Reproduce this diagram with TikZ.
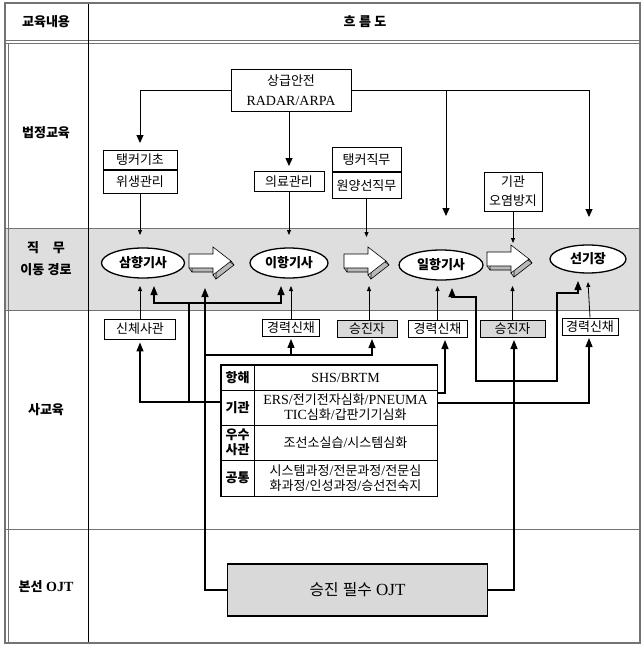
\documentclass[tikz,border=0pt]{standalone}
\usepackage{fontspec}
\setmainfont{Liberation Serif}
\newfontfamily\krfont{Noto Sans CJK KR}[Scale=0.93]
\XeTeXinterchartokenstate=1
\newXeTeXintercharclass\krclass
\newcount\hgcnt
\hgcnt="AC00
\loop
  \XeTeXcharclass\hgcnt=\krclass
\ifnum\hgcnt<"D7A3
  \advance\hgcnt by 1
\repeat
\XeTeXinterchartoks 0 \krclass = {\begingroup\krfont}
\XeTeXinterchartoks 4095 \krclass = {\begingroup\krfont}
\XeTeXinterchartoks \krclass 0 = {\endgroup}
\XeTeXinterchartoks \krclass 4095 = {\endgroup}
\usetikzlibrary{shapes.geometric,arrows.meta,calc}
\definecolor{bandgray}{gray}{0.87}
\definecolor{boxgray}{gray}{0.85}
\definecolor{rulegray}{gray}{0.45}
\newcommand\mysz{\fontsize{14}{16}\selectfont}
\newcommand\cellsz{\fontsize{14}{15}\selectfont}
\tikzset{
  box/.style={draw, line width=0.9pt, fill=white, inner sep=1pt},
  gbox/.style={box, fill=boxgray},
  cell/.style={draw, line width=0.9pt, inner sep=1pt, align=center, font=\cellsz},
  bcell/.style={cell, font=\cellsz\bfseries},
  lab/.style={font=\mysz\bfseries, align=center},
  ell/.style={ellipse, draw, line width=1.3pt, fill=white, inner sep=0pt, font=\mysz\bfseries},
  arr/.style={line width=1pt, -{Triangle[length=8pt,width=7pt]}},
  sarr/.style={line width=0.8pt, -{Triangle[length=5pt,width=4pt]}},
  tarr/.style={line width=1.2pt, -{Triangle[length=9pt,width=7pt]}},
  tline/.style={line width=1.2pt},
  barrow/.pic={
    \filldraw[fill=gray!55, line width=0.6pt] (-18,-3) -- (6,-3) -- (6,-10) -- (24,4) -- (6,18) -- (6,11) -- (-18,11) -- cycle;
    \draw[line width=0.6pt] (-21,7) -- (-18,11) (21,0) -- (24,4) (3,14) -- (6,18);
    \filldraw[fill=white, line width=0.6pt] (-21,-7) -- (3,-7) -- (3,-14) -- (21,0) -- (3,14) -- (3,7) -- (-21,7) -- cycle;
  }
}
\begin{document}
\begin{tikzpicture}[x=1pt,y=-1pt,font=\mysz]
\useasboundingbox (0,0) rectangle (643,645);
% ---- table frame ----
\fill[bandgray] (5,228) rectangle (640,310);
\draw[rulegray, line width=0.8pt] (5,40) -- (640,40) (5,43.5) -- (640,43.5);
\draw[rulegray, line width=1pt] (5,228) -- (640,228) (5,310) -- (640,310) (5,529) -- (640,529);
\draw[line width=0.8pt] (88,3) -- (88,643);
\draw[rulegray, line width=1.2pt] (5,3) rectangle (640,643);
\draw[rulegray, line width=0.6pt] (8,43.5) -- (8,643);
% ---- header and row labels ----
\node[lab] (h1) at (46,22) {교육내용};
\node[lab] (h2) at (365,22) {흐 름 도};
\node[lab] (l1) at (46,133) {법정교육};
\node[lab] (l2a) at (46,248) {직\hspace{14pt}무};
\node[lab] (l2b) at (46,270) {이동 경로};
\node[lab] (l3) at (46,410) {사교육};
\node[lab] (l4) at (46,587) {본선 OJT};
% ---- statutory training ----
\node[box, minimum width=120, minimum height=42, align=center] (radar) at (291,90) {상급안전\\[4pt]RADAR/ARPA};
\node[box, minimum width=74, minimum height=19, anchor=north] (tk1a) at (140,150) {탱커기초};
\node[box, minimum width=74, minimum height=23, anchor=north] (tk1b) at (tk1a.south) {위생관리};
\node[box, minimum width=70, minimum height=20] (med) at (289,181.5) {의료관리};
\node[box, minimum width=69, minimum height=24, anchor=north] (tk2a) at (366.5,147) {탱커직무};
\node[box, minimum width=69, minimum height=26, anchor=north] (tk2b) at (tk2a.south) {원양선직무};
\node[box, minimum width=58, minimum height=39, align=center] (eng) at (513,191.5) {기관\\[3pt]오염방지};
\coordinate (ar1) at (446,216);
\coordinate (ar2) at (589,217);
\draw[arr, shorten >=7pt] (radar.west) -| (tk1a.north);
\draw[arr, shorten >=5pt] (med.north |- radar.south) -- (med.north);
\draw[arr] (radar.east) -| (ar2);
\draw[arr] (radar.east -| ar1) -- (ar1);
% ---- job path band ----
\node[ell, minimum width=83, minimum height=30] (e1) at (143,263) {삼향기사};
\node[ell, minimum width=78, minimum height=30] (e2) at (289,263) {이항기사};
\node[ell, minimum width=84, minimum height=30] (e3) at (441,265) {일항기사};
\node[ell, minimum width=76, minimum height=28] (e4) at (588,259) {선기장};
\pic at (210,261) {barrow};
\pic at (365,261) {barrow};
\pic at (508,259) {barrow};
\coordinate (ytop) at (0,235);
\draw[sarr] (tk1b.south) -- (tk1b.south |- ytop);
\draw[sarr] (med.south) -- (med.south |- ytop);
\draw[sarr] (tk2b.south) -- (366.5,237);
\draw[sarr] (eng.south) -- (513,243);
% ---- private training boxes ----
\node[box, minimum width=71, minimum height=20] (s1) at (140,329) {신체사관};
\node[box, minimum width=57, minimum height=17] (k1) at (291,328) {경력신채};
\node[gbox, minimum width=60, minimum height=17] (p1) at (367,328.5) {승진자};
\node[box, minimum width=59, minimum height=17] (k2) at (437.5,328.5) {경력신채};
\node[gbox, minimum width=65, minimum height=17] (p2) at (512.5,328.5) {승진자};
\node[box, minimum width=56, minimum height=17] (k3) at (590,326.5) {경력신채};
\coordinate (ybot) at (0,286);
\draw[sarr] (s1.north) -- (s1.north |- ybot);
\draw[sarr] (k1.north) -- (k1.north |- ybot);
\draw[sarr] (369,320) -- (369,286);
\draw[sarr] (k2.north) -- (k2.north |- ybot);
\draw[sarr] (p2.north) -- (p2.north |- ybot);
\draw[sarr] (k3.north) -- (588,282);
% ---- course table ----
\node[bcell, minimum width=33, minimum height=25] (c1l) at (237.5,377.5) {항해};
\node[cell, minimum width=183, minimum height=25] (c1r) at (345.5,377.5) {SHS/BRTM};
\node[bcell, minimum width=33, minimum height=35] (c2l) at (237.5,407.5) {기관};
\node[cell, minimum width=183, minimum height=35] (c2r) at (345.5,407.5) {ERS/전기전자심화/PNEUMA\\TIC심화/갑판기기심화};
\node[bcell, minimum width=33, minimum height=35] (c3l) at (237.5,442.5) {우수\\사관};
\node[cell, minimum width=183, minimum height=35] (c3r) at (345.5,442.5) {조선소실습/시스템심화};
\node[bcell, minimum width=33, minimum height=36] (c4l) at (237.5,478) {공통};
\node[cell, minimum width=183, minimum height=36] (c4r) at (345.5,478) {시스템과정/전문과정/전문심\\화과정/인성과정/승선전숙지};
\draw[line width=1.4pt] (c1l.north west) rectangle (c4r.south east);
% ---- OJT ----
\node[gbox, line width=1.2pt, minimum width=260, minimum height=52, font=\fontsize{17}{19}\selectfont] (ojt) at (357.5,590) {승진 필수 OJT};
% ---- thick connectors ----
\coordinate (jl) at (189,402);
\coordinate (jt) at (189,303);
\coordinate (a1) at (154,286);
\coordinate (a2) at (281,286);
\draw[tarr, shorten >=3pt] (jl -| c2l.west) -| (s1.south);
\draw[tline] (jl) -- (jt);
\draw[tarr] (jt) -| (a1);
\draw[tarr] (jt) -| (a2);
\coordinate (b1in) at (205,288);
\coordinate (jo) at (205,355);
\coordinate (p1in) at (372,339);
\draw[tarr] (ojt.west) -| (b1in);
\draw[tarr, shorten >=2pt] (jo) -| (k1.south);
\draw[tarr] (jo) -| (p1in);
\coordinate (k2in) at (445,340);
\coordinate (k3in) at (589,338);
\draw[tarr] (c2r.north east |- 0,393) -| (k2in);
\draw[tarr] (c2r.north east |- 0,403) -| (k3in);
\coordinate (u1) at (452,288);
\coordinate (u2) at (578,281);
\draw[line width=1.2pt, {Triangle[length=9pt,width=7pt]}-{Triangle[length=9pt,width=7pt]}] (u1) -- (452,297) -- (476,297) -- (476,381) -- (557,381) -- (557,293) -- (578,293) -- (u2);
\coordinate (p2in) at (514,340);
\draw[tarr] (ojt.east) -| (p2in);
\end{tikzpicture}
\end{document}
